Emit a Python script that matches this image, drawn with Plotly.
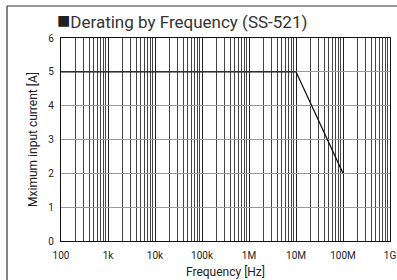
import plotly.graph_objects as go

freq_hz = [1e2, 1e7, 1e8]
current_a = [5, 5, 2]
x_tick_vals = [1e2, 1e3, 1e4, 1e5, 1e6, 1e7, 1e8, 1e9]
x_tick_text = ["100", "1k", "10k", "100k", "1M", "10M", "100M", "1G"]
y_tick_vals = [0, 1, 2, 3, 4, 5, 6]

W, H = 397, 280
L, R, T, B = 61, 7, 38, 39
pw, ph = W - L - R, H - T - B

def px(x):
    return (x - L) / pw

def py(y):
    return (H - B - y) / ph

fig = go.Figure()
fig.add_trace(go.Scatter(x=freq_hz, y=current_a, mode="lines",
                         line=dict(color="#111111", width=1.3), showlegend=False))

font_main = "Liberation Sans Narrow, Roboto, Arial, sans-serif"

fig.update_layout(
    width=W, height=H,
    margin=dict(l=L, r=R, t=T, b=B, autoexpand=False),
    paper_bgcolor="white", plot_bgcolor="white",
    font=dict(family=font_main, color="#222222", size=10),
    xaxis=dict(type="log", range=[2, 9], tickvals=x_tick_vals, ticktext=x_tick_text,
               showgrid=True, gridcolor="#222222", gridwidth=1,
               minor=dict(showgrid=True, gridcolor="#444444", gridwidth=1, dtick="D1"),
               showline=True, linecolor="#111111", linewidth=1.2, mirror=True,
               ticks="", tickfont=dict(size=10), zeroline=False, automargin=False,
               ticklabeloverflow="allow", ticklabelstandoff=5,
               title=dict(text="Frequency [Hz]", font=dict(size=12), standoff=7)),
    yaxis=dict(range=[0, 6], tickvals=y_tick_vals,
               showgrid=True, gridcolor="#999999", gridwidth=1,
               showline=True, linecolor="#111111", linewidth=1.2, mirror=True,
               ticks="", tickfont=dict(size=10), zeroline=False, automargin=False,
               ticklabelstandoff=4,
               title=dict(text="Mximum input current [A]", font=dict(size=12), standoff=8)),
    shapes=[
        dict(type="line", xref="paper", yref="paper", x0=px(7), x1=px(397), y0=py(6), y1=py(6),
             line=dict(color="#333333", width=1.2)),
        dict(type="line", xref="paper", yref="paper", x0=px(7), x1=px(7), y0=py(6), y1=py(280),
             line=dict(color="#333333", width=1.2)),
    ],
    annotations=[
        dict(text="<span style='font-size:22px;color:#222'>■</span>Derating by Frequency (SS-521)",
             xref="paper", yref="paper",
             x=px(55), y=py(20), xanchor="left", yanchor="middle", showarrow=False,
             font=dict(size=17, color="#333333", family=font_main)),
    ],
)

fig.write_html("out.html", config={"displayModeBar": False},
               post_script="document.body.style.margin='0';document.body.style.overflow='hidden';")
